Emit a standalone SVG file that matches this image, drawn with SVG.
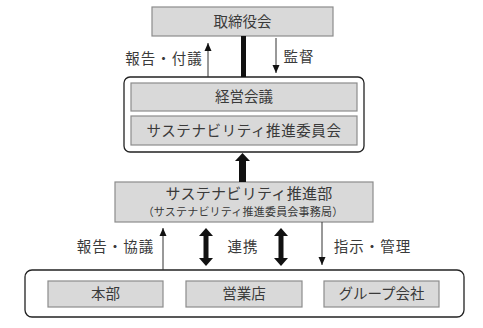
<svg xmlns="http://www.w3.org/2000/svg" width="483" height="328" viewBox="0 0 483 328">
<defs>
<style>
text{font-family:"Noto Sans CJK JP","Noto Sans",sans-serif;fill:#3a3a3a;text-anchor:middle;font-size:14.5px}
.box{fill:#d9d9d9;stroke:#8c8c8c;stroke-width:1.2}
.cont{fill:#fff;stroke:#222;stroke-width:1.3}
.thin{stroke:#333;stroke-width:1;fill:none}
.lbl{letter-spacing:1px}
</style>
<marker id="ah" viewBox="0 0 8 8" refX="8" refY="4" markerWidth="8" markerHeight="8" markerUnits="userSpaceOnUse" orient="auto">
<path d="M0,0.5 L8,4 L0,7.5 Z" fill="#111"/>
</marker>
</defs>
<rect width="483" height="328" fill="#fff"/>
<g id="board">
<rect class="box" x="152" y="7" width="181" height="29" stroke="#555"/>
<text x="242.5" y="27">取締役会</text>
</g>
<g id="mgmt">
<rect class="cont" x="124" y="77" width="240" height="75" rx="6"/>
<g id="keiei">
<rect class="box" x="131" y="83" width="226" height="28"/>
<text x="244" y="102">経営会議</text>
</g>
<g id="committee">
<rect class="box" x="131" y="116" width="226" height="29"/>
<text x="244" y="136" style="letter-spacing:0.6px">サステナビリティ推進委員会</text>
</g>
</g>
<g id="dept">
<rect class="box" x="115" y="182" width="258" height="40"/>
<text x="249" y="199" style="font-size:15px;letter-spacing:0.3px">サステナビリティ推進部</text>
<text x="243" y="216" style="font-size:11px;letter-spacing:0.2px">（サステナビリティ推進委員会事務局）</text>
</g>
<g id="units">
<rect class="cont" x="25" y="270" width="439" height="47" rx="7"/>
<g id="honbu">
<rect class="box" x="48" y="281" width="115" height="26"/>
<text x="105.5" y="299">本部</text>
</g>
<g id="eigyo">
<rect class="box" x="186" y="281" width="116" height="26"/>
<text x="244" y="299">営業店</text>
</g>
<g id="group">
<rect class="box" x="324" y="281" width="115" height="26"/>
<text x="381.5" y="299">グループ会社</text>
</g>
</g>
<g id="connectors">
<rect x="241" y="36" width="5" height="41" fill="#111"/>
<line class="thin" x1="208" y1="77" x2="208" y2="43" marker-end="url(#ah)"/>
<line class="thin" x1="276" y1="38" x2="276" y2="73" marker-end="url(#ah)"/>
<path d="M242.5,153 L250,161 L246,161 L246,182 L239,182 L239,161 L235,161 Z" fill="#111"/>
<line class="thin" x1="163" y1="270" x2="163" y2="228" marker-end="url(#ah)"/>
<line class="thin" x1="322" y1="222" x2="322" y2="265" marker-end="url(#ah)"/>
<path d="M206,228 L213,236 L208.5,236 L208.5,258 L213,258 L206,266 L199,258 L203.5,258 L203.5,236 L199,236 Z" fill="#111"/>
<path d="M281,228 L288,236 L283.5,236 L283.5,258 L288,258 L281,266 L274,258 L278.5,258 L278.5,236 L274,236 Z" fill="#111"/>
</g>
<g id="labels">
<text x="164" y="64" class="lbl">報告・付議</text>
<text x="299" y="62" class="lbl">監督</text>
<text x="115.5" y="252" class="lbl">報告・協議</text>
<text x="243" y="252" class="lbl">連携</text>
<text x="372.5" y="252" class="lbl">指示・管理</text>
</g>
</svg>
